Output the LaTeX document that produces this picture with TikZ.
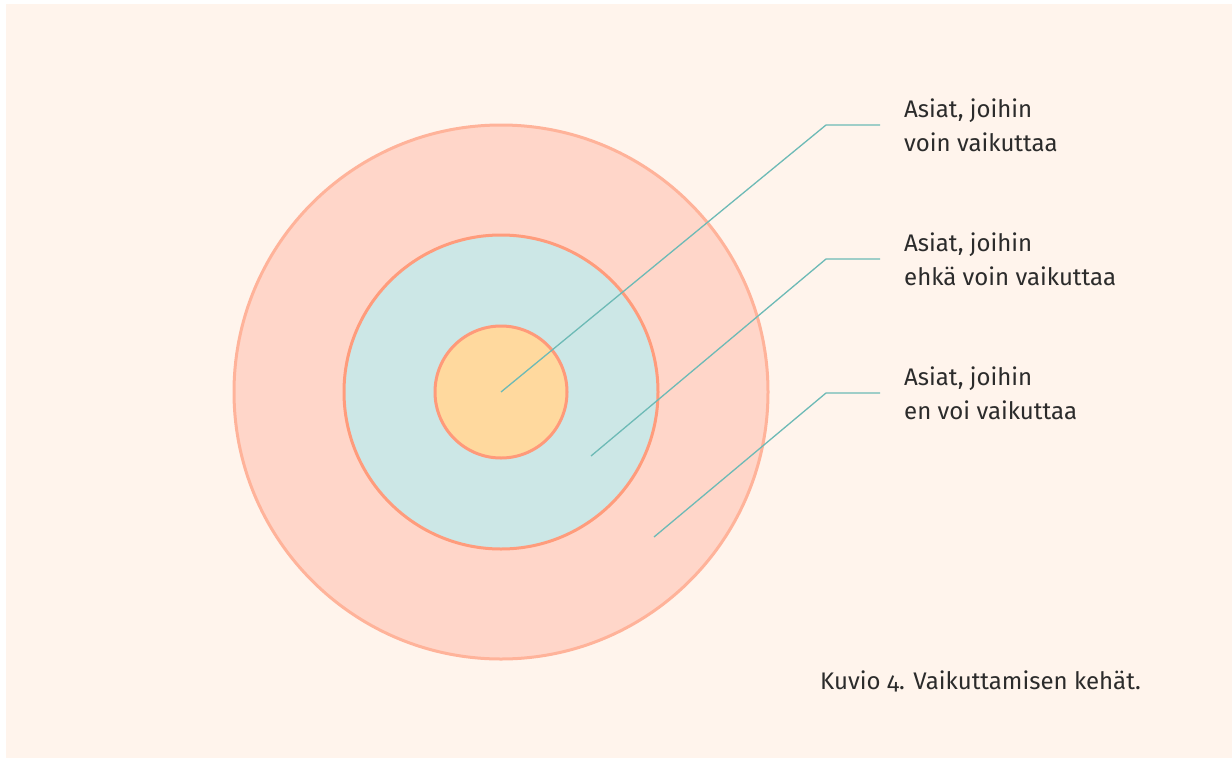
\documentclass[tikz,border=0pt]{standalone}
\usepackage{fontspec}
\setmainfont{Fira Sans}[Numbers=OldStyle]
\definecolor{bgc}{HTML}{FFF4EC}
\definecolor{outerfill}{HTML}{FFD6C9}
\definecolor{outerline}{HTML}{FFB39A}
\definecolor{midfill}{HTML}{CCE7E6}
\definecolor{midline}{HTML}{FF9C7C}
\definecolor{innerfill}{HTML}{FFD99E}
\definecolor{innerline}{HTML}{FF9A7A}
\definecolor{leader}{HTML}{6DBAB6}
\definecolor{txt}{HTML}{2B2B2B}
\begin{document}
\begin{tikzpicture}[x=1pt,y=-1pt,
  ring/.style={line width=3pt},
  leaderline/.style={draw=leader,line width=1.3pt},
  lbl/.style={anchor=base west,align=left,inner sep=0pt,text=txt,
    font=\fontsize{24}{34}\selectfont},
  captionstyle/.style={anchor=base west,inner sep=0pt,text=txt,
    font=\fontsize{24}{28}\selectfont}]
\useasboundingbox (0,0) rectangle (1232,758);
\fill[white] (0,0) rectangle (1232,758);
\fill[bgc] (6,4) rectangle (1232,758);
\coordinate (ctr) at (501,392);
\draw[ring,draw=outerline,fill=outerfill] (ctr) circle[radius=267];
\draw[ring,draw=midline,fill=midfill] (ctr) circle[radius=157];
\draw[ring,draw=innerline,fill=innerfill] (ctr) circle[radius=66];
\node[lbl] (l1) at (904,151) {Asiat, joihin\\voin vaikuttaa};
\node[lbl] (l2) at (904,285) {Asiat, joihin\\ehkä voin vaikuttaa};
\node[lbl] (l3) at (904,419) {Asiat, joihin\\en voi vaikuttaa};
\node[captionstyle] (caption) at (820,689) {Kuvio 4. Vaikuttamisen kehät.};
\coordinate (s1) at (501,392);
\coordinate (s2) at (591,456);
\coordinate (s3) at (654,537);
\coordinate (k1) at (826,125);
\coordinate (k2) at (826,259);
\coordinate (k3) at (826,393);
\coordinate (e1) at (880,125);
\coordinate (e2) at (880,259);
\coordinate (e3) at (880,393);
\draw[leaderline] (s1) -- (k1) -- (e1);
\draw[leaderline] (s2) -- (k2) -- (e2);
\draw[leaderline] (s3) -- (k3) -- (e3);
\end{tikzpicture}
\end{document}
